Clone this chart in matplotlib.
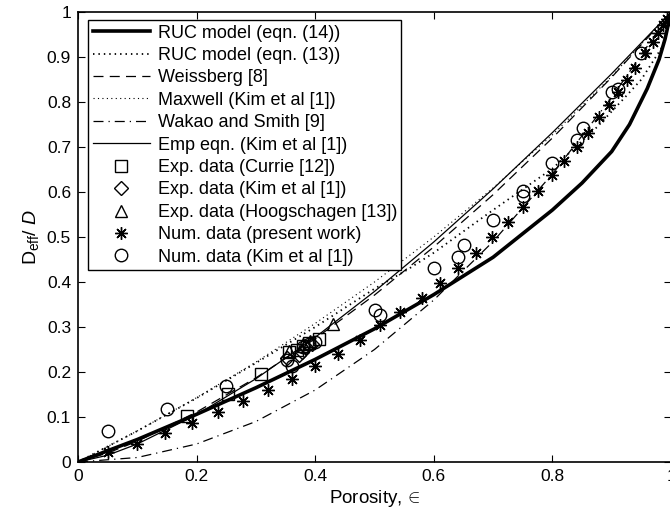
import numpy as np
import matplotlib
matplotlib.use("Agg")
import matplotlib.pyplot as plt

plt.rcParams['font.family'] = ['Liberation Sans', 'DejaVu Sans']
plt.rcParams['mathtext.fontset'] = 'custom'
plt.rcParams['mathtext.rm'] = 'Liberation Sans'
plt.rcParams['mathtext.it'] = 'Liberation Sans:italic'

# --- curves ---
# RUC model, eqn. (14)
ruc14_x = [0, 0.05, 0.1, 0.2, 0.3, 0.4, 0.5, 0.6, 0.7, 0.8, 0.85, 0.9, 0.93, 0.96, 0.98, 0.99, 1.0]
ruc14_y = [0, 0.025, 0.05, 0.106, 0.165, 0.228, 0.296, 0.372, 0.455, 0.56, 0.62, 0.69, 0.75, 0.83, 0.895, 0.94, 1.0]

# RUC model, eqn. (13)
ruc13_x = [0, 0.1, 0.2, 0.3, 0.4, 0.5, 0.555, 0.6, 0.7, 0.8, 0.875, 0.92, 0.95, 0.985, 1.0]
ruc13_y = [0, 0.069, 0.142, 0.22, 0.3, 0.385, 0.427, 0.465, 0.56, 0.652, 0.744, 0.807, 0.85, 0.922, 1.0]

# Weissberg [8]
weis_x = [0, 0.05, 0.1, 0.2, 0.3, 0.4, 0.5, 0.6, 0.7, 0.8, 0.9, 1.0]
weis_y = [0, 0.02, 0.046, 0.111, 0.187, 0.274, 0.371, 0.478, 0.594, 0.72, 0.855, 1.0]

# Maxwell (Kim et al [1])
maxw_x = [0, 0.1, 0.2, 0.3, 0.4, 0.5, 0.6, 0.7, 0.8, 0.9, 1.0]
maxw_y = [0, 0.069, 0.143, 0.222, 0.308, 0.4, 0.5, 0.609, 0.727, 0.857, 1.0]

# Wakao and Smith [9]
wakao_x = [0, 0.1, 0.2, 0.3, 0.4, 0.5, 0.6, 0.7, 0.8, 0.9, 1.0]
wakao_y = [0, 0.01, 0.04, 0.09, 0.16, 0.25, 0.36, 0.49, 0.64, 0.81, 1.0]

# Emp eqn. (Kim et al [1])
emp_x = [0, 0.05, 0.1, 0.2, 0.3, 0.4, 0.5, 0.6, 0.7, 0.8, 0.9, 1.0]
emp_y = [0, 0.015, 0.04, 0.105, 0.185, 0.277, 0.379, 0.489, 0.607, 0.732, 0.863, 1.0]

# --- markers ---
currie_x = [0.184, 0.253, 0.309, 0.356, 0.37, 0.38, 0.39, 0.406]
currie_y = [0.102, 0.151, 0.196, 0.244, 0.25, 0.258, 0.264, 0.273]

kim_exp_x = [0.352, 0.372, 0.378, 0.385, 0.395]
kim_exp_y = [0.232, 0.238, 0.245, 0.255, 0.262]

hoog_x = [0.356, 0.38, 0.392, 0.43]
hoog_y = [0.246, 0.262, 0.27, 0.306]

num_x = [0.05, 0.10, 0.147, 0.192, 0.236, 0.278, 0.32, 0.361, 0.40, 0.438, 0.476, 0.509,
         0.543, 0.58, 0.61, 0.641, 0.671, 0.698, 0.725, 0.75, 0.776, 0.799, 0.82, 0.841,
         0.86, 0.879, 0.895, 0.911, 0.926, 0.939, 0.956, 0.97, 0.978, 0.987, 0.993]
num_y = [0.022, 0.04, 0.064, 0.087, 0.111, 0.136, 0.16, 0.184, 0.213, 0.241, 0.271, 0.304,
         0.334, 0.365, 0.397, 0.431, 0.464, 0.5, 0.533, 0.567, 0.602, 0.638, 0.67, 0.7,
         0.731, 0.767, 0.793, 0.822, 0.849, 0.876, 0.909, 0.933, 0.953, 0.971, 0.985]

kim_num_x = [0.05, 0.15, 0.25, 0.352, 0.361, 0.38, 0.39, 0.40, 0.50, 0.51, 0.60, 0.64,
             0.651, 0.70, 0.75, 0.75, 0.80, 0.841, 0.852, 0.90, 0.91, 0.95]
kim_num_y = [0.07, 0.117, 0.169, 0.227, 0.214, 0.255, 0.262, 0.267, 0.338, 0.327, 0.431, 0.455,
             0.482, 0.538, 0.591, 0.602, 0.665, 0.715, 0.742, 0.822, 0.83, 0.908]

fig = plt.figure(figsize=(6.7, 5.16), dpi=100)
ax = fig.add_axes([78 / 670, 54 / 516, 593 / 670, 450 / 516])

ax.plot(ruc14_x, ruc14_y, '-', color='k', lw=2.6, label='RUC model (eqn. (14))')
ax.plot(ruc13_x, ruc13_y, color='k', lw=1.3, linestyle=(0, (0.8, 2.2)), label='RUC model (eqn. (13))')
ax.plot(weis_x, weis_y, color='k', lw=0.9, linestyle=(0, (8, 5)), label='Weissberg [8]')
ax.plot(maxw_x, maxw_y, color='k', lw=0.8, linestyle=(0, (1, 3)), label='Maxwell (Kim et al [1])')
ax.plot(wakao_x, wakao_y, color='k', lw=0.9, linestyle=(0, (8, 4, 1, 4)), label='Wakao and Smith [9]')
ax.plot(emp_x, emp_y, '-', color='k', lw=0.9, label='Emp eqn. (Kim et al [1])')

mk = dict(linestyle='none', color='k', mfc='none', mew=1.0)
ax.plot(currie_x, currie_y, marker='s', ms=8, label='Exp. data (Currie [12])', **mk)
ax.plot(kim_exp_x, kim_exp_y, marker='D', ms=7, label='Exp. data (Kim et al [1])', **mk)
ax.plot(hoog_x, hoog_y, marker='^', ms=9, label='Exp. data (Hoogschagen [13])', **mk)
ax.plot(num_x, num_y, marker=(8, 2, 0), ms=9, label='Num. data (present work)', **mk)
ax.plot(kim_num_x, kim_num_y, marker='o', ms=9, label='Num. data (Kim et al [1])', **mk)

ax.set_xlim(0, 1)
ax.set_ylim(0, 1)
ax.set_xticks([0, 0.2, 0.4, 0.6, 0.8, 1])
ax.set_xticklabels(['0', '0.2', '0.4', '0.6', '0.8', '1'])
ax.set_yticks(np.arange(0, 1.01, 0.1))
ax.set_yticklabels(['0', '0.1', '0.2', '0.3', '0.4', '0.5', '0.6', '0.7', '0.8', '0.9', '1'])
ax.tick_params(direction='in', top=True, right=True, length=5, width=0.8, labelsize=12.5, pad=5)
for s in ax.spines.values():
    s.set_linewidth(1.2)

ax.set_xlabel(r'Porosity,$\,\in$', fontsize=13.5, labelpad=3)
ax.set_ylabel(r'D$_{\rm eff}$/ $D$', fontsize=14, labelpad=4)

leg = ax.legend(loc='upper left', bbox_to_anchor=(10 / 593, 1 - 8 / 450), borderaxespad=0,
                fontsize=13, frameon=True, fancybox=False, edgecolor='k', framealpha=1,
                handlelength=3.2, handletextpad=0.4, labelspacing=0.3, borderpad=0.25,
                numpoints=1)
leg.get_frame().set_linewidth(1.0)

fig.savefig('out.png', dpi=100)
